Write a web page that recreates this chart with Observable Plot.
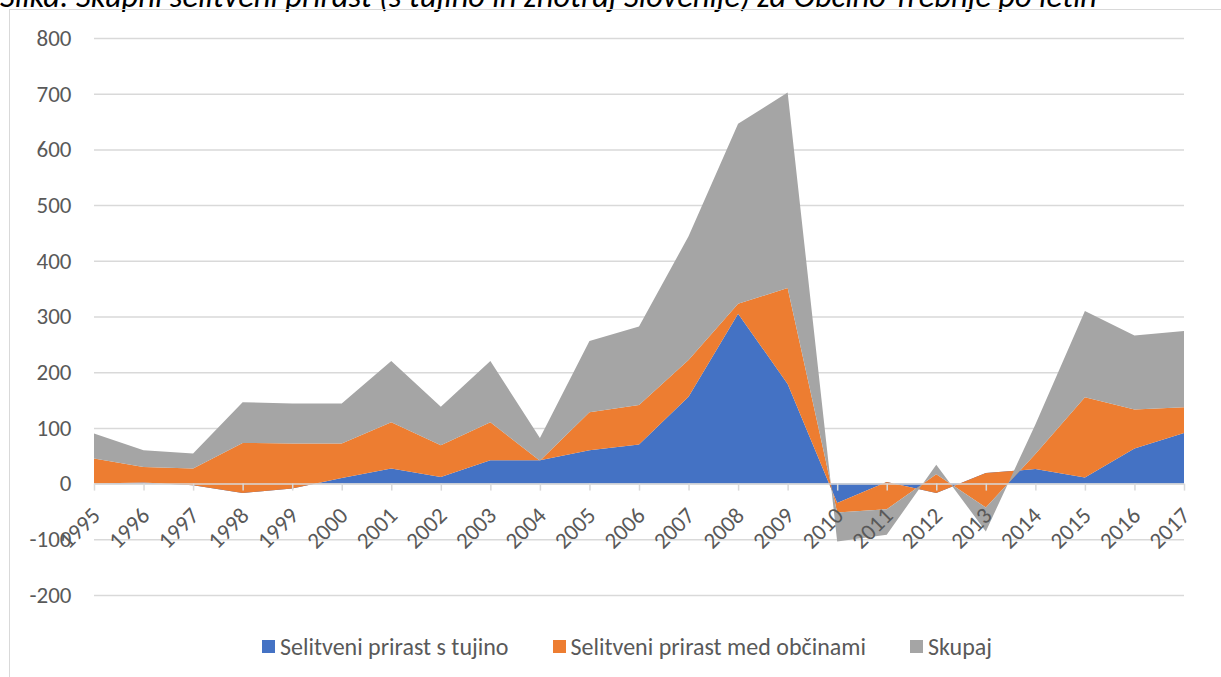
<!DOCTYPE html>
<html>
<head>
<meta charset="utf-8">
<script src="https://cdn.jsdelivr.net/npm/d3@7"></script>
<script src="https://cdn.jsdelivr.net/npm/@observablehq/plot@0.6"></script>
<style>
  html, body { margin: 0; padding: 0; background: #fff; }
  body { position: relative; width: 1221px; height: 677px; overflow: hidden; font-family: Carlito, Lato, sans-serif; }
  #title { position: absolute; left: 0; top: -19px; font-style: italic; font-size: 32.5px; line-height: 31px; white-space: nowrap; color: #000; }
  #frame { position: absolute; left: 9px; top: 9px; width: 1240px; height: 700px; border: 1px solid #d9d9d9; box-sizing: border-box; }
  #chart { position: absolute; left: 0; top: 0; }
  #legend { position: absolute; left: 262px; top: 632px; display: flex; align-items: center; font-size: 24px; color: #595959; white-space: nowrap; }
  .item { display: flex; align-items: center; margin-right: 44px; }
  .sw { width: 13px; height: 13px; margin-right: 5px; }
</style>
</head>
<body>
<div id="title">Slika: Skupni selitveni prirast (s tujino in znotraj Slovenije) za Občino Trebnje po letih</div>
<div id="frame"></div>
<div id="chart"></div>
<div id="legend"></div>
<script>
// ---- data ----
const years = [1995, 1996, 1997, 1998, 1999, 2000, 2001, 2002, 2003, 2004, 2005, 2006,
               2007, 2008, 2009, 2010, 2011, 2012, 2013, 2014, 2015, 2016, 2017];
const tujina = [0, 2, -3, -17, -9, 10, 27, 12, 42, 42, 60, 70,
                156, 305, 179, -35, 3, -17, 19, 26, 11, 63, 91];
const obcine = [45, 28, 30, 90, 81, 62, 83, 57, 68, -1, 68, 71,
                66, 18, 172, -17, -49, 34, -62, 27, 144, 70, 46];
const skupaj = [45, 30, 27, 73, 72, 72, 110, 69, 110, 41, 128, 141,
                222, 323, 351, -52, -46, 17, -43, 53, 155, 133, 137];
const seriesNames = ["Selitveni prirast s tujino", "Selitveni prirast med občinami", "Skupaj"];
const seriesColors = ["#4472C4", "#ED7D31", "#A5A5A5"];
const yTicks = [-200, -100, 0, 100, 200, 300, 400, 500, 600, 700, 800];

// Excel-style stacked area: each series is stacked on the running (signed) sum
const seriesValues = [tujina, obcine, skupaj];
const rows = [];
years.forEach((yr, i) => {
  let base = 0;
  seriesValues.forEach((vals, s) => {
    rows.push({year: yr, series: seriesNames[s], y1: base, y2: base + vals[i]});
    base += vals[i];
  });
});

const chart = Plot.plot({
  width: 1221,
  height: 620,
  marginLeft: 94,
  marginRight: 37,
  marginTop: 38,
  marginBottom: 25,
  style: {background: "transparent", fontFamily: "Carlito, Lato, sans-serif"},
  x: {type: "linear", domain: [1995, 2017], axis: null},
  y: {domain: [-200, 800], axis: null},
  color: {domain: seriesNames, range: seriesColors},
  marks: [
    Plot.ruleY(yTicks, {stroke: "#d9d9d9", strokeWidth: 1.5}),
    Plot.areaY(rows, {x: "year", y1: "y1", y2: "y2", z: "series", fill: "series", curve: "linear"}),
    Plot.ruleY([0], {stroke: "#d9d9d9", strokeWidth: 1.5}),
    Plot.ruleX(years, {x: d => d, y1: 0, y2: 0, insetTop: 0, insetBottom: -7, stroke: "#d9d9d9", strokeWidth: 1.5}),
    Plot.text(years, {x: d => d, y: 0, text: d => String(d), rotate: -45, textAnchor: "end", lineAnchor: "bottom",
                      dx: 7, dy: 33, fill: "#595959", fontSize: 23}),
    Plot.axisY(yTicks, {tickSize: 0, tickPadding: 23, fill: "#595959", fontSize: 23, tickFormat: d => String(d)})
  ]
});
document.getElementById("chart").appendChild(chart);

// legend
const legend = document.getElementById("legend");
seriesNames.forEach((name, s) => {
  const item = document.createElement("div");
  item.className = "item";
  const sw = document.createElement("div");
  sw.className = "sw";
  sw.style.background = seriesColors[s];
  const label = document.createElement("span");
  label.textContent = name;
  item.appendChild(sw);
  item.appendChild(label);
  legend.appendChild(item);
});
</script>
</body>
</html>
